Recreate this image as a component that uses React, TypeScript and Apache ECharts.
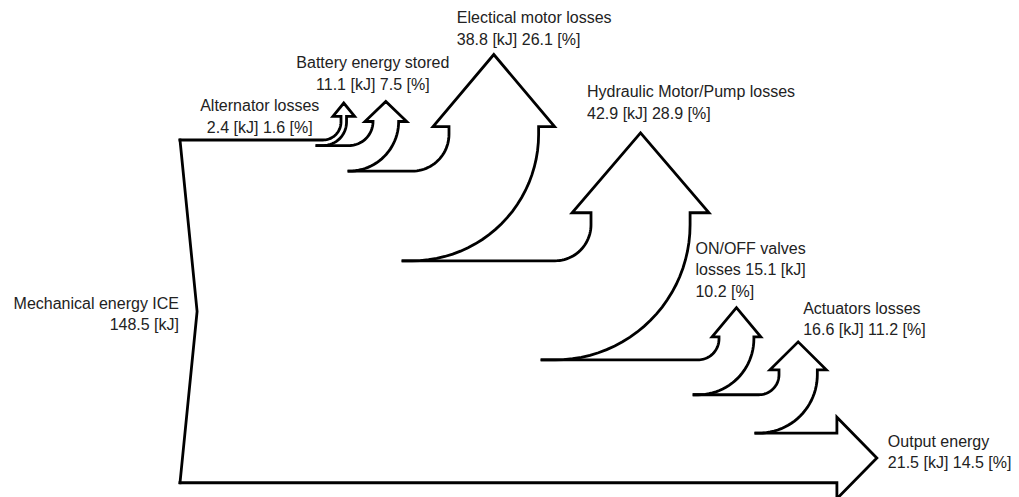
import React, { useEffect, useRef } from "react";
import * as echarts from "echarts";

// ---------- data ----------
const flowNames = [
  "Alternator losses",
  "Battery energy stored",
  "Electical motor losses",
  "Hydraulic Motor/Pump losses",
  "ON/OFF valves losses",
  "Actuators losses",
  "Output energy",
];
const flowValues = [2.4, 11.1, 38.8, 42.9, 15.1, 16.6, 21.5]; // kJ
const flowPercents = [1.6, 7.5, 26.1, 28.9, 10.2, 11.2, 14.5]; // %
const inputName = "Mechanical energy ICE";
const inputValue = 148.5; // kJ

// ---------- layout (diagram units = kJ) ----------
const branchX = [69.7, 83.56, 116.46, 177.94, 233.36, 259.33, 284.4];
const branchRadius = [7.8, 10.4, 16, 15.6, 9.1, 8.7, 0];
const shaftLen = [10.2, 10.4, 19.3, 20.8, 10, 10.8, 0];
const shoulder = [3.5, 3.5, 6.9, 8.2, 3.0, 3.9, 6.9];
const headLen = [5.8, 8.7, 31.2, 34.6, 12.6, 12.1, 17.3];
const tailStub = [2.6, 0, 3.9, 5.6, 1.7, 1.3, 0];
const inputNotch = 7.4;
const labelOffset: [number, number, string][] = [
  [-84, 13.5, "center"],
  [-13, -28, "center"],
  [-37, -26, "left"],
  [-53.5, -30.5, "left"],
  [-41, -38, "left"],
  [5, -23, "left"],
  [11, -6, "left"],
];
const labelWrap = [false, false, false, false, true, false, false];
const inputLabelOffset: [number, number] = [-1, 2.5];

const X_MIN = -77.93;
const X_MAX = 363.24;
const Y_MIN = -6.061;
const Y_MAX = 209.11;

function flowLabel(i: number): string {
  const v = flowValues[i].toFixed(1);
  const p = flowPercents[i].toFixed(1);
  if (labelWrap[i]) {
    const words = flowNames[i].split(" ");
    const last = words.pop();
    return `${words.join(" ")}\n${last} ${v} [kJ]\n${p} [%]`;
  }
  return `${flowNames[i]}\n${v} [kJ] ${p} [%]`;
}

const levels: number[] = [inputValue];
flowValues.forEach((v, i) => levels.push(levels[i] - v));

const FONT = '16px "Liberation Sans", Arial, Helvetica, sans-serif';
const TEXT_COLOR = "#222";

export default function App() {
  const ref = useRef<HTMLDivElement>(null);

  useEffect(() => {
    if (!ref.current) return;
    const chart = echarts.init(ref.current, null, { renderer: "svg" });
    const nUp = flowValues.length - 1;

    const lineStyle = {
      fill: "none",
      stroke: "#000",
      lineWidth: 2.8,
      lineJoin: "miter",
      miterLimit: 10,
      lineCap: "square",
    };

    const renderItem = (params: any, api: any) => {
      const i = params.dataIndex;
      const P = (x: number, y: number) => api.coord([x, y]);
      const pts: number[][] = [];
      let anchor: number[] = [0, 0];
      let text = "";
      let align = "left";
      let off: [number, number] = [0, 0];
      const N = 24;

      if (i < nUp) {
        const T = levels[i];
        const w = flowValues[i];
        const X = branchX[i];
        const r = branchRadius[i];
        const L = shaftLen[i];
        const s = shoulder[i];
        const h = headLen[i];
        const x0 = X - r;
        const startX = i === 0 ? 0 : branchX[i - 1] - branchRadius[i - 1] - tailStub[i - 1];
        pts.push(P(startX, T));
        for (let k = 0; k <= N; k++) {
          const th = -Math.PI / 2 + (Math.PI / 2) * (k / N);
          pts.push(P(x0 + r * Math.cos(th), T + r + r * Math.sin(th)));
        }
        pts.push(P(X, T + L));
        pts.push(P(X - s, T + L));
        pts.push(P(X + w / 2, T + L + h));
        pts.push(P(X + w + s, T + L));
        pts.push(P(X + w, T + L));
        const R = r + w;
        for (let k = 0; k <= N; k++) {
          const th = -(Math.PI / 2) * (k / N);
          pts.push(P(x0 + R * Math.cos(th), T + r + R * Math.sin(th)));
        }
        pts.push(P(x0 - tailStub[i], T - w));
        anchor = P(X + w / 2, T + L + h);
        text = flowLabel(i);
        off = [labelOffset[i][0], labelOffset[i][1]];
        align = labelOffset[i][2];
      } else if (i === nUp) {
        const T = levels[i];
        const w = flowValues[i];
        const E = branchX[i];
        const s = shoulder[i];
        const h = headLen[i];
        const startX = branchX[i - 1] - branchRadius[i - 1] - tailStub[i - 1];
        pts.push(P(startX, T));
        pts.push(P(E, T));
        pts.push(P(E, T + s));
        pts.push(P(E + h, T - w / 2));
        pts.push(P(E, T - w - s));
        pts.push(P(E, T - w));
        pts.push(P(0, T - w));
        anchor = P(E + h, T - w / 2);
        text = flowLabel(i);
        off = [labelOffset[i][0], labelOffset[i][1]];
        align = labelOffset[i][2];
      } else {
        const top = levels[0];
        const bottom = levels[nUp] - flowValues[nUp];
        const mid = (top + bottom) / 2;
        pts.push(P(0, bottom));
        pts.push(P(inputNotch, mid));
        pts.push(P(0, top));
        anchor = P(0, mid);
        text = `${inputName}\n${inputValue.toFixed(1)} [kJ]`;
        off = inputLabelOffset;
        align = "right";
      }

      return {
        type: "group",
        children: [
          { type: "polyline", shape: { points: pts }, style: lineStyle },
          {
            type: "text",
            x: anchor[0] + off[0],
            y: anchor[1] + off[1],
            style: {
              text,
              fill: TEXT_COLOR,
              font: FONT,
              align,
              verticalAlign: "middle",
              lineHeight: 21.5,
            },
          },
        ],
      };
    };

    const seriesData = flowValues.map((v, i) => [i, v]);
    seriesData.push([flowValues.length, inputValue]);

    chart.setOption({
      animation: false,
      backgroundColor: "#fff",
      grid: { left: 0, right: 0, top: 0, bottom: 0 },
      xAxis: { type: "value", min: X_MIN, max: X_MAX, show: false },
      yAxis: { type: "value", min: Y_MIN, max: Y_MAX, show: false },
      series: [
        {
          type: "custom",
          coordinateSystem: "cartesian2d",
          silent: true,
          renderItem,
          data: seriesData,
        },
      ],
    });

    return () => chart.dispose();
  }, []);

  return (
    <div
      ref={ref}
      style={{ position: "fixed", left: 0, top: 0, width: 1019, height: 497, background: "#fff" }}
    />
  );
}
